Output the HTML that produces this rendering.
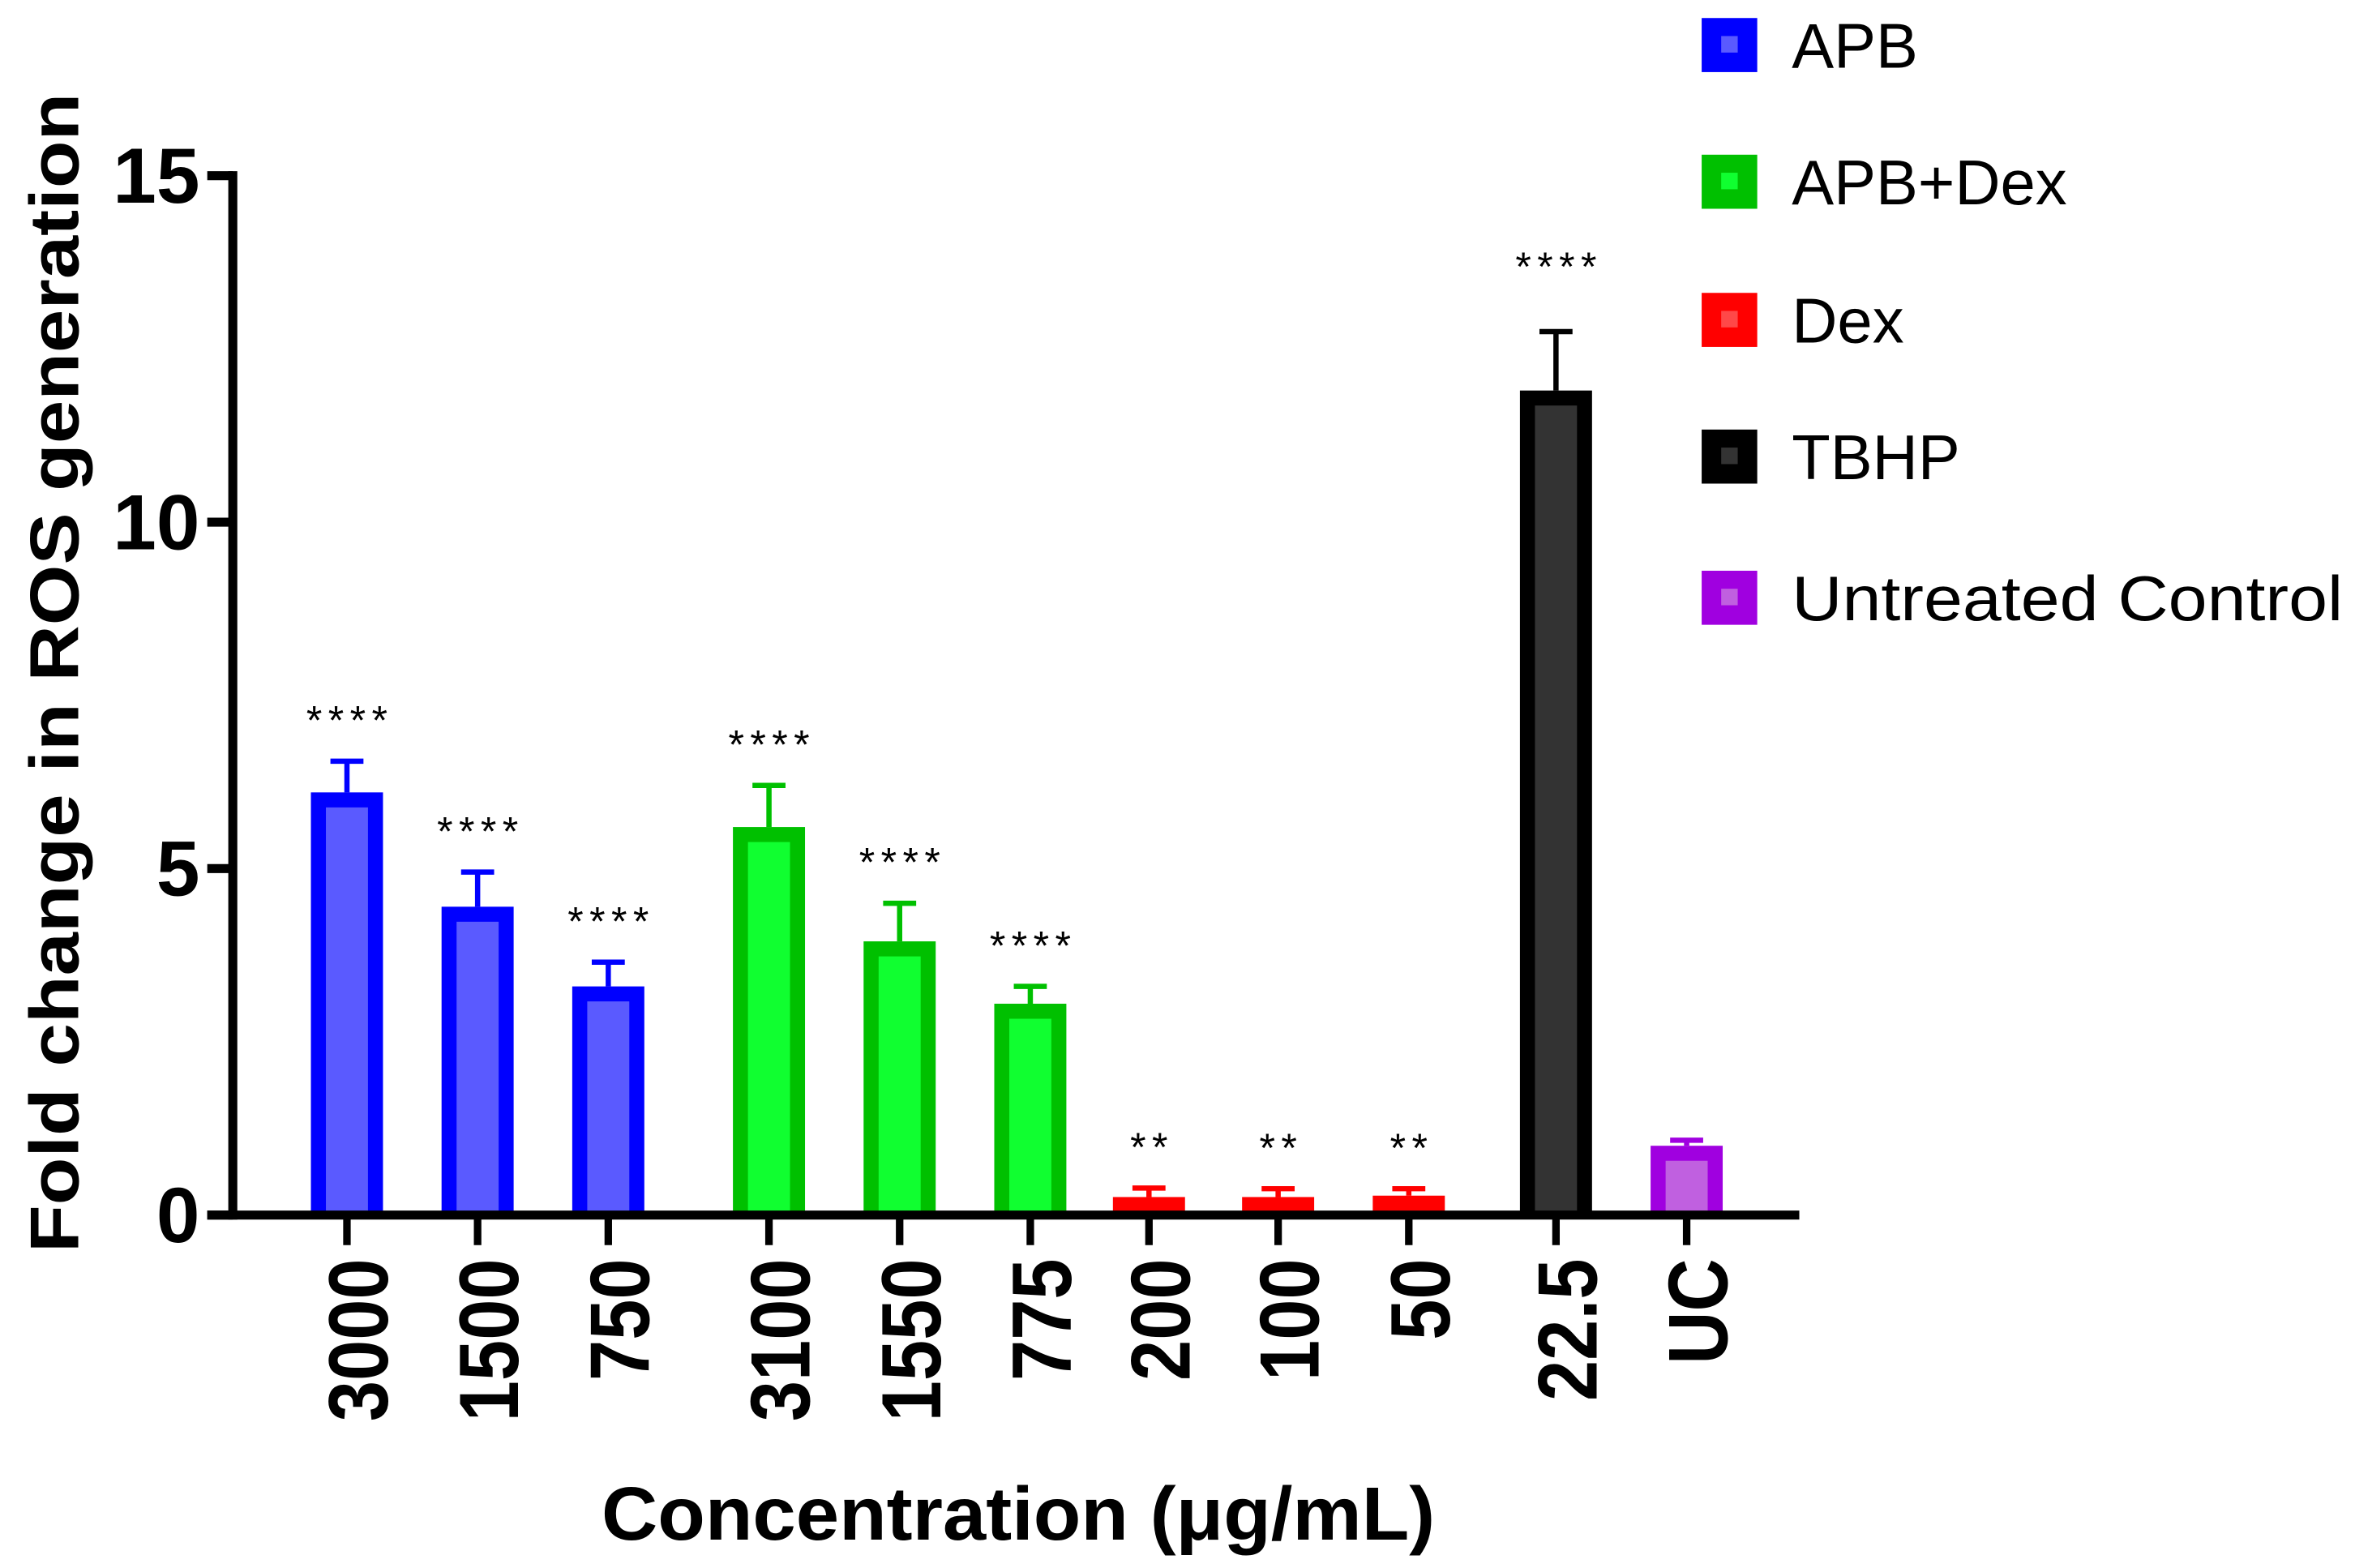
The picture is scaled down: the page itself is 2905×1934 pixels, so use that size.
<!DOCTYPE html>
<html><head><meta charset="utf-8"><style>
html,body{margin:0;padding:0;background:#fff;}
svg{display:block;}
</style></head><body>
<svg id="chart" width="2905" height="1934" viewBox="0 0 1568 1044" preserveAspectRatio="none" xmlns="http://www.w3.org/2000/svg">
<g id="bars"></g>
<g id="axes"></g>
<g id="legend"></g>
<text transform="translate(52,448) rotate(-90)" text-anchor="middle" font-family="'Liberation Sans Narrow','Liberation Sans',sans-serif" font-weight="bold" font-size="46" textLength="772" lengthAdjust="spacingAndGlyphs">Fold change in ROS generation</text>
<text x="678" y="1025" text-anchor="middle" font-family="'Liberation Sans Narrow','Liberation Sans',sans-serif" font-weight="bold" font-size="50" textLength="555" lengthAdjust="spacingAndGlyphs">Concentration (μg/mL)</text>
</svg>
<script>
const categories = ["3000","1500","750","3100","1550","775","200","100","50","22.5","UC"];
const groups = ["APB","APB","APB","APB+Dex","APB+Dex","APB+Dex","Dex","Dex","Dex","TBHP","Untreated Control"];
const values = [6.1,4.45,3.3,5.6,3.95,3.05,0.26,0.26,0.28,11.9,1.0];
const errors = [0.45,0.5,0.35,0.6,0.55,0.25,0.13,0.12,0.1,0.85,0.08];
const stars = ["****","****","****","****","****","****","**","**","**","****",""];
const yTicks = [0,5,10,15];
const legendNames = ["APB","APB+Dex","Dex","TBHP","Untreated Control"];

const NS="http://www.w3.org/2000/svg";
const colors={"APB":["#0000ff","#5a5aff"],"APB+Dex":["#00c000","#10ff30"],"Dex":["#ff0000","#ff4848"],"TBHP":["#000000","#333333"],"Untreated Control":["#a000e0","#c060e0"]};
const centers=[231,318,405,512,599,686,765,851,938,1036,1123];
const y0=809, yTop=117, yMax=15;
function ys(v){return y0-(v/yMax)*(y0-yTop);}
function xs(i){return centers[i];}
function mk(tag,attrs,parent){const e=document.createElementNS(NS,tag);for(const k in attrs)e.setAttribute(k,attrs[k]);parent.appendChild(e);return e;}
const bars=document.getElementById('bars'),axes=document.getElementById('axes'),legend=document.getElementById('legend');
const bw=48,b=5;
values.forEach((v,i)=>{
  const c=colors[groups[i]];const x=xs(i)-bw/2;const top=ys(v);
  const g=mk('g',{},bars);
  
  
  mk('rect',{x:x,y:top,width:bw,height:y0-top,fill:c[0]},g);
  const ih=y0-top-b*2;
  if(ih>0) mk('rect',{x:x+b*2,y:top+b*2,width:bw-b*4,height:ih,fill:c[1]},g);
  const et=ys(v+errors[i]);
  const eb=mk('g',{stroke:c[0],'stroke-width':3.5},bars);
  
  
  mk('line',{x1:xs(i),x2:xs(i),y1:top,y2:et},eb);
  mk('line',{x1:xs(i)-11,x2:xs(i)+11,y1:et,y2:et},eb);
  if(stars[i]){
    const gap = groups[i]==="TBHP" ? 34 : 18;
    const t=mk('text',{x:xs(i)+2,y:et-gap,'text-anchor':'middle','font-family':"'Liberation Sans',sans-serif",'font-size':27,'letter-spacing':4,fill:'#000'},bars);
    
    
    t.textContent=stars[i];
  }
  const tk=mk('line',{x1:xs(i),x2:xs(i),y1:y0,y2:y0+20,stroke:'#000','stroke-width':5},axes);
  
  
  const lb=mk('text',{transform:`translate(${xs(i)+27},838) rotate(-90)`,'text-anchor':'end','font-family':"'Liberation Sans',sans-serif",'font-weight':'bold','font-size':56,fill:'#000'},axes);
  
  
  lb.textContent=categories[i];
  const w=lb.getComputedTextLength();
  lb.setAttribute('textLength',(w*0.87).toFixed(1));
  lb.setAttribute('lengthAdjust','spacingAndGlyphs');
});
const ya=mk('line',{x1:155,x2:155,y1:yTop-3,y2:y0+3,stroke:'#000','stroke-width':6},axes);


const xa=mk('line',{x1:138,x2:1198,y1:y0,y2:y0,stroke:'#000','stroke-width':6},axes);


yTicks.forEach(v=>{
  const t=mk('line',{x1:138,x2:155,y1:ys(v),y2:ys(v),stroke:'#000','stroke-width':6},axes);
  
  
  const l=mk('text',{x:133,y:ys(v)+18,'text-anchor':'end','font-family':"'Liberation Sans',sans-serif",'font-weight':'bold','font-size':52,fill:'#000'},axes);
  
  
  l.textContent=v;
});
const ly=[30,121,213,304,398];
legendNames.forEach((n,i)=>{
  const c=colors[n];
  const g=mk('g',{},legend);
  
  
  mk('rect',{x:1133,y:ly[i]-18,width:37,height:36,fill:c[0]},g);
  mk('rect',{x:1146,y:ly[i]-6,width:11,height:11,fill:c[1]},g);
  const t=mk('text',{x:1193,y:ly[i]+15,'font-family':"'Liberation Sans',sans-serif",'font-size':42,fill:'#000'},g);
  if(n==="Untreated Control"){t.setAttribute('textLength',367);t.setAttribute('lengthAdjust','spacingAndGlyphs');}
  t.textContent=n;
});
</script>
</body></html>
